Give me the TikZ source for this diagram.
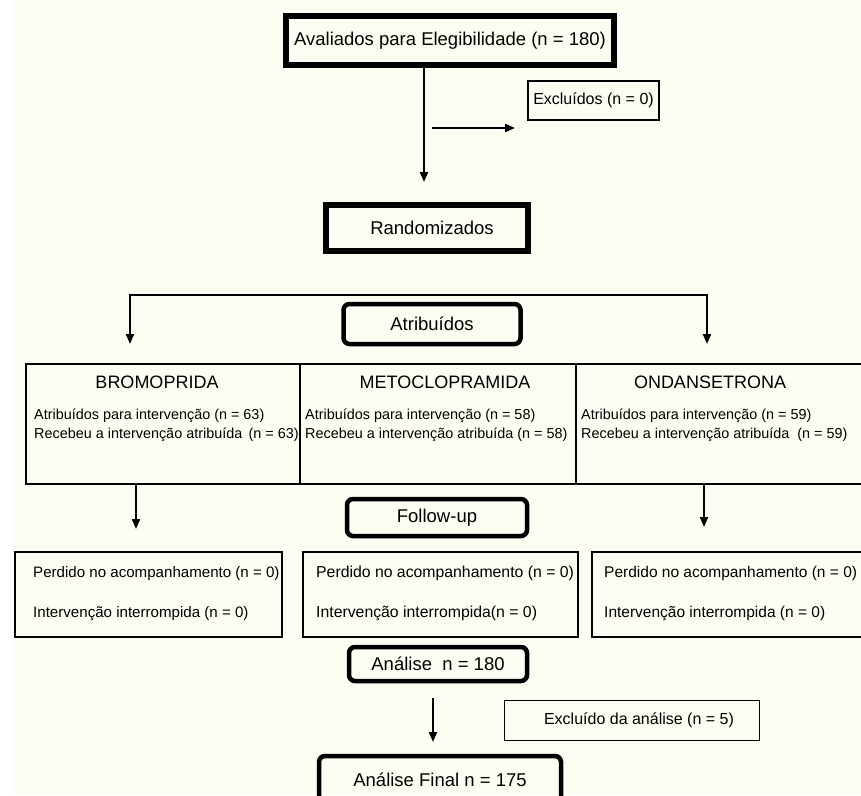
\documentclass[tikz,border=0pt]{standalone}
\usepackage{fontspec}
\setmainfont{Liberation Sans}
\usetikzlibrary{arrows.meta}
\definecolor{paper}{RGB}{253,253,243}

\begin{document}
\begin{tikzpicture}[
		x=1pt, y=-1pt,
		heavybox/.style={
		% The shape:
		rectangle,
		inner sep=0pt,
		% The border:
		line width=6pt,
		draw=black,
		% Font
		font=\fontsize{18.5}{22}\selectfont
		},
		plainbox/.style={
		% The shape:
		rectangle,
		inner sep=0pt,
		% The border:
		line width=2pt,
		draw=black,
		% Font
		font=\fontsize{16}{19}\selectfont
		},
		roundbox/.style={
		% The shape:
		rectangle,
		rounded corners=6pt,
		inner sep=0pt,
		% The border:
		line width=4.5pt,
		draw=black,
		% Font
		font=\fontsize{18.5}{22}\selectfont
		},
		grouptitle/.style={anchor=base, inner sep=0pt, font=\fontsize{18}{21}\selectfont},
		smalltext/.style={anchor=base west, inner sep=0pt, font=\fontsize{14.4}{17}\selectfont},
		losstext/.style={anchor=base west, inner sep=0pt, font=\fontsize{15.8}{19}\selectfont},
		flow/.style={line width=2pt, -{Triangle[length=10pt,width=8pt]}}
	]
	\useasboundingbox (0,0) rectangle (861,795);
	\clip (0,0) rectangle (861,795);
	% paper
	\fill[white] (0,0) rectangle (861,795);
	\fill[paper] (13,0) rectangle (861,795);

	% top part
	\node (aval)[heavybox, minimum width=328pt, minimum height=49pt] at (450,40.5) {Avaliados para Elegibilidade (n = 180)};
	\node (excl)[plainbox, minimum width=131pt, minimum height=39pt] at (593.5,100.5) {Excluídos (n = 0)};
	\node (rand)[heavybox, line width=5.5pt, minimum width=202pt, minimum height=46pt] at (427,228) {\hspace{10pt}Randomizados};
	\node (atrib)[roundbox, minimum width=177pt, minimum height=40pt] at (432,324) {Atribuídos};

	\coordinate (randin) at (424,182);
	\coordinate (exclfrom) at (432,128);
	\coordinate (exclto) at (515,128);
	\coordinate (splitl) at (130,344);
	\coordinate (splitr) at (707,344);
	\coordinate (splittop) at (430,295);

	\draw [flow] (aval.south -| randin) -- (randin);
	\draw [flow] (exclfrom) -- (exclto);
	\draw [line width=2pt, {Triangle[length=10pt,width=8pt]}-{Triangle[length=10pt,width=8pt]}] (splitl) |- (splittop) -| (splitr);

	% groups
	\node (bromo)[plainbox, minimum width=274pt, minimum height=120pt] at (163,424) {};
	\node (meto)[plainbox, minimum width=276pt, minimum height=120pt] at (438,424) {};
	\node (ondan)[plainbox, minimum width=314pt, minimum height=120pt] at (733,424) {};

	\node (bromoname)[grouptitle] at (157,388) {BROMOPRIDA};
	\node (metoname)[grouptitle] at (445,388) {METOCLOPRAMIDA};
	\node (ondanname)[grouptitle] at (710,388) {ONDANSETRONA};

	\node (bromoatr)[smalltext] at (34,419) {Atribuídos para intervenção (n = 63)};
	\node (bromorec)[smalltext] at (34,438) {Recebeu a intervenção atribuída\, (n = 63)};
	\node (metoatr)[smalltext] at (305,419) {Atribuídos para intervenção (n = 58)};
	\node (metorec)[smalltext] at (305,438) {Recebeu a intervenção atribuída (n = 58)};
	\node (ondanatr)[smalltext] at (581,419) {Atribuídos para intervenção (n = 59)};
	\node (ondanrec)[smalltext] at (581,438) {Recebeu a intervenção atribuída~ (n = 59)};

	\node (follow)[roundbox, minimum width=180pt, minimum height=37pt] at (437,517.5) {Follow-up};

	\coordinate (bromoout) at (136,529);
	\coordinate (ondanout) at (704,527);
	\draw [flow] (bromo.south -| bromoout) -- (bromoout);
	\draw [flow] (ondan.south -| ondanout) -- (ondanout);

	% follow-up boxes
	\node (bromoloss)[plainbox, minimum width=267pt, minimum height=85pt] at (148.5,594.5) {};
	\node (metoloss)[plainbox, minimum width=275pt, minimum height=85pt] at (440.5,594.5) {};
	\node (ondanloss)[plainbox, minimum width=298pt, minimum height=85pt] at (741,594.5) {};

	\node (bromolost)[losstext, font=\fontsize{15.1}{18}\selectfont] at (33,577) {Perdido no acompanhamento (n = 0)};
	\node (bromostop)[losstext, font=\fontsize{15.1}{18}\selectfont] at (33,617) {Intervenção interrompida (n = 0)};
	\node (metolost)[losstext] at (316,577) {Perdido no acompanhamento (n = 0)};
	\node (metostop)[losstext] at (316,617) {Intervenção interrompida(n = 0)};
	\node (ondanlost)[losstext, font=\fontsize{15.5}{18}\selectfont] at (604,577) {Perdido no acompanhamento (n = 0)};
	\node (ondanstop)[losstext, font=\fontsize{15.5}{18}\selectfont] at (604,617) {Intervenção interrompida (n = 0)};

	% analysis
	\node (anal)[roundbox, minimum width=178pt, minimum height=34pt] at (438,664) {Análise~ n = 180};
	\node (analexcl)[plainbox, line width=1.5pt, minimum width=255pt, minimum height=40pt] at (632,720.5) {\hspace{14pt}Excluído da análise (n = 5)};
	\node (final)[roundbox, minimum width=242pt, minimum height=50pt] at (440,781) {\raisebox{3pt}{Análise Final n = 175}};

	\coordinate (finalfrom) at (433,698);
	\coordinate (finalin) at (433,742);
	\draw [flow] (finalfrom) -- (finalin);
\end{tikzpicture}
\end{document}
